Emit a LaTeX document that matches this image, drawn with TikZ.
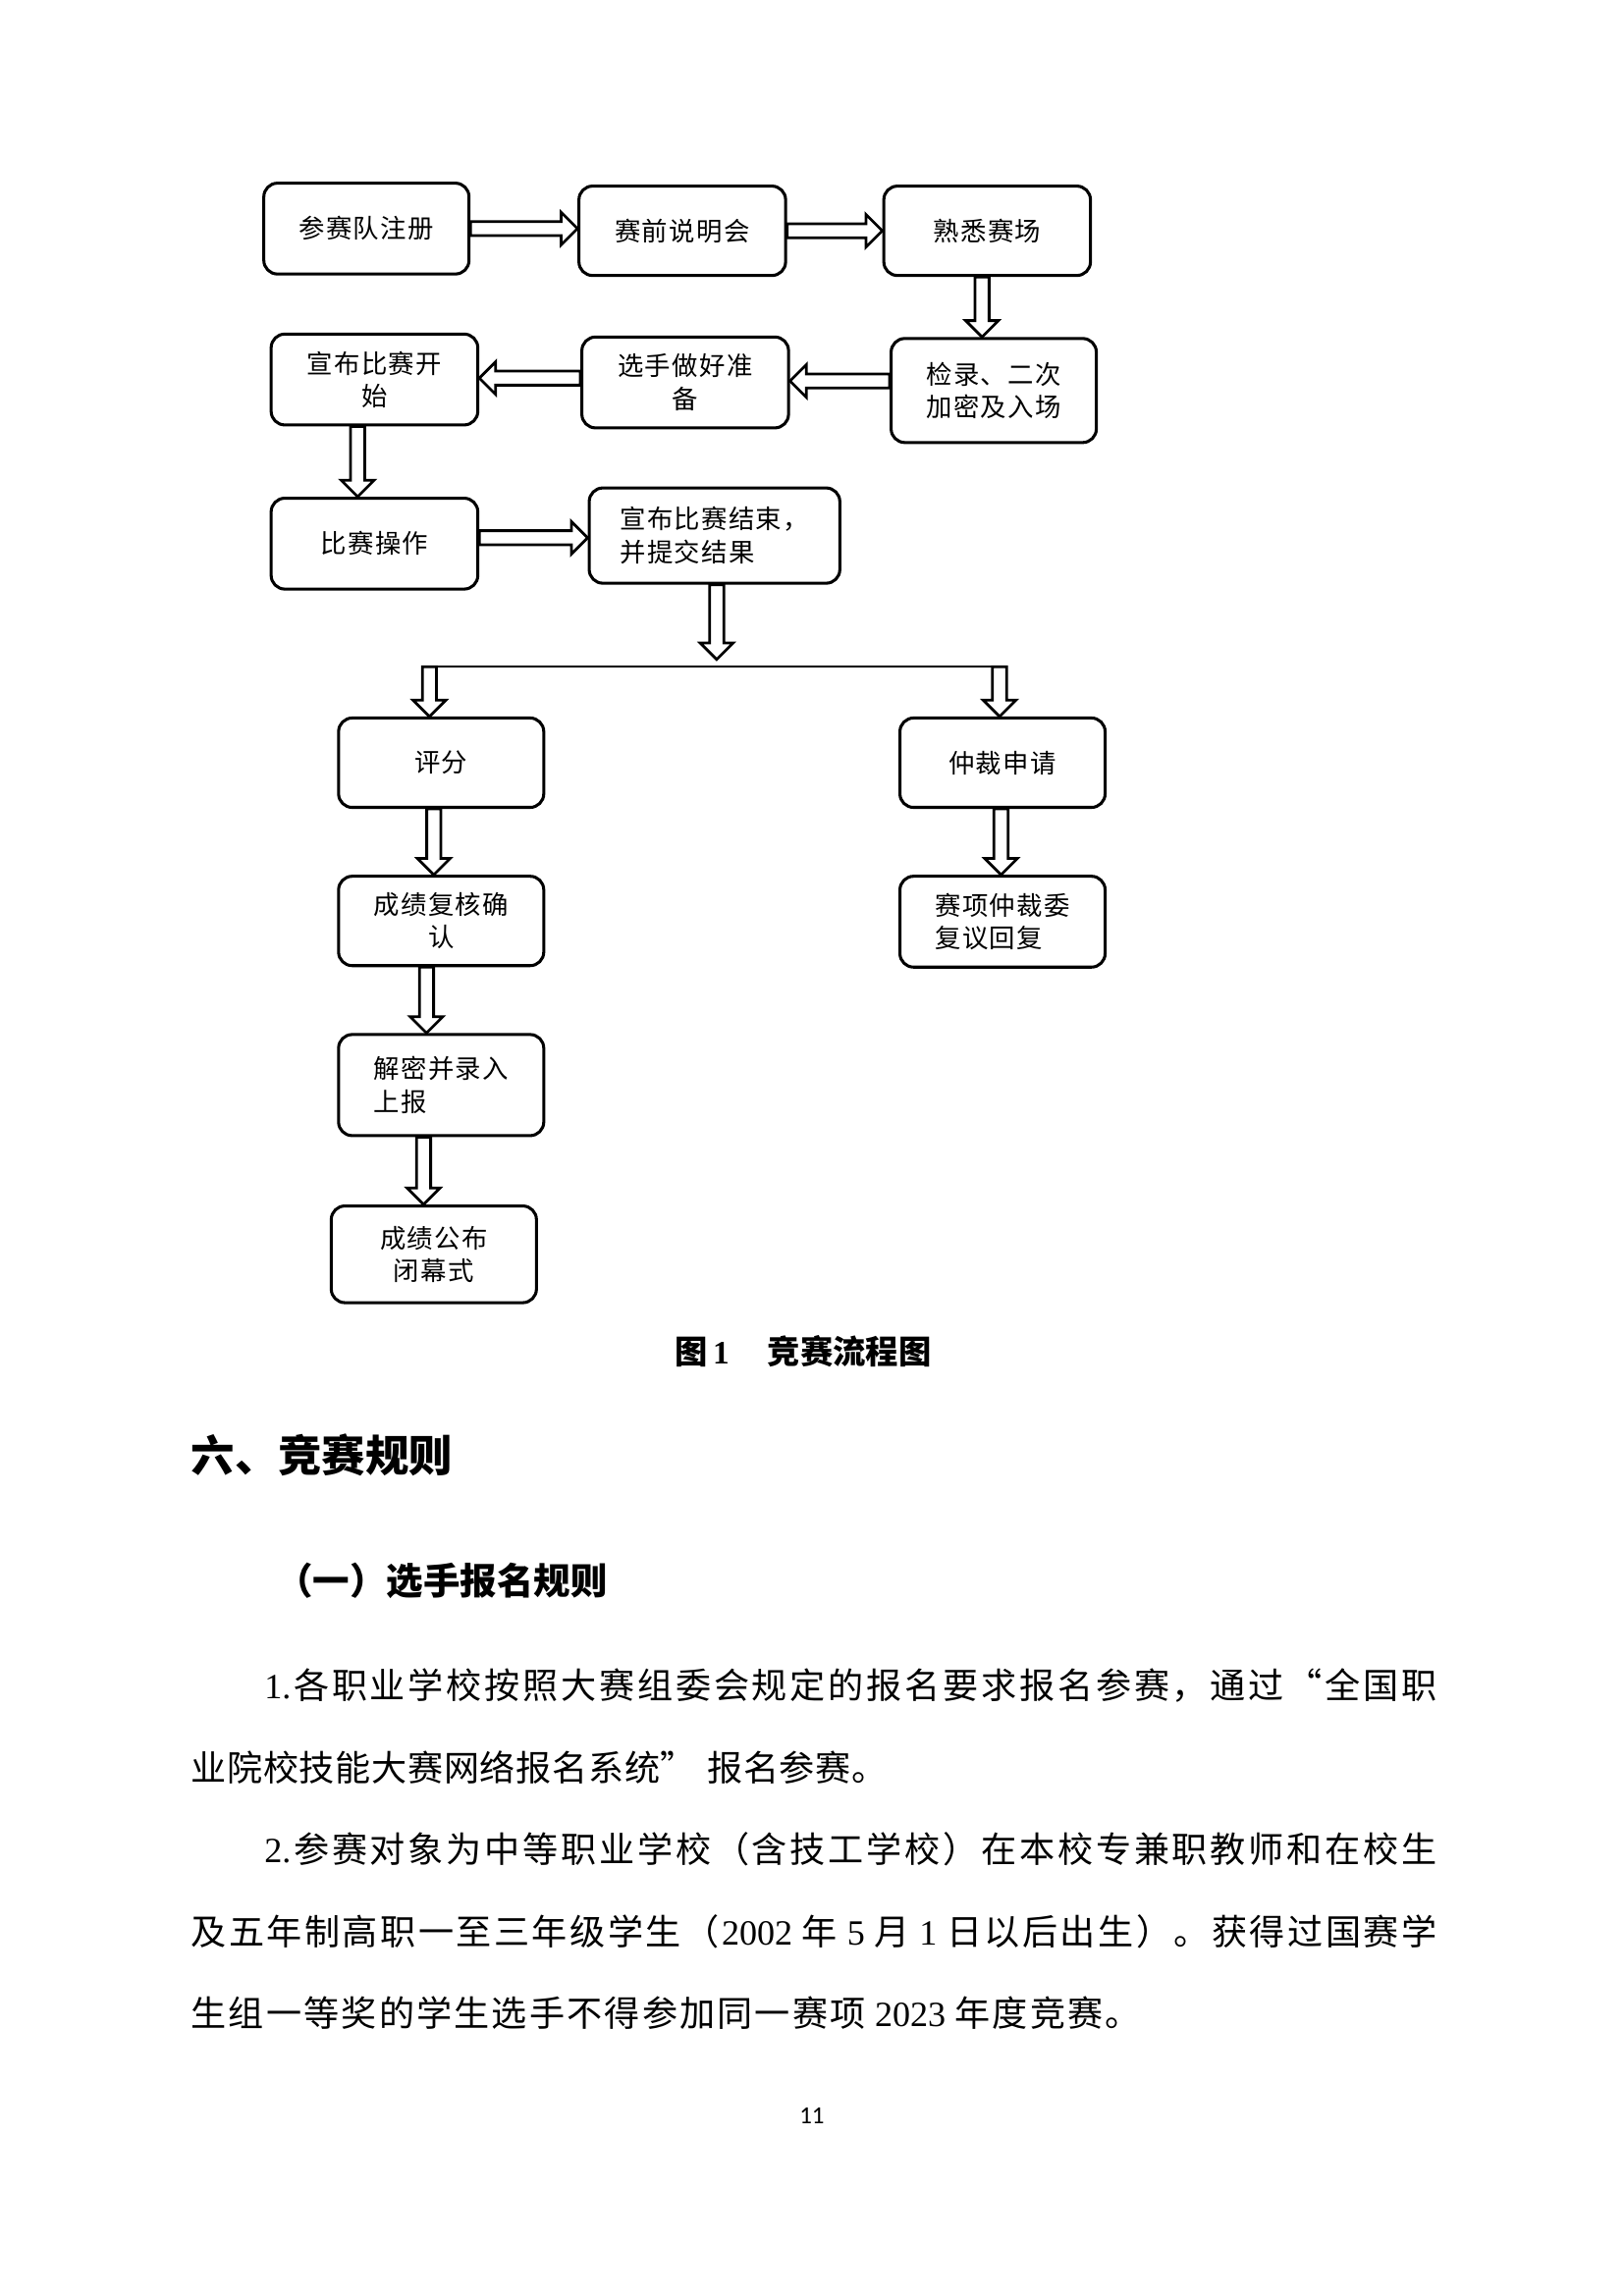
\documentclass[tikz,border=0pt]{standalone}
\usepackage{fontspec}
\setmainfont{Noto Sans CJK SC}
\newfontfamily\boxfont[LetterSpace=5]{Noto Sans CJK SC}
\newfontfamily\tnr{Liberation Serif}
\newfontfamily\pgfont{Carlito}
\usetikzlibrary{calc}
\newdimen\un \un=0.5373pt
\def\arSW{2.6pt}\def\arHW{6pt}\def\arHL{6pt}
\newcommand\T[1]{{\tnr #1}}
\makeatletter
\def\spr@end{\spr@end}
\def\spreadtext#1{\spr@#1\spr@end}
\def\spr@#1{\ifx\spr@end#1\unskip\else#1\hfil\expandafter\spr@\fi}
\makeatother
\newcommand\bx[7]{\node[box,align=#7,minimum width={#4*0.5373pt},minimum height={#5*0.5373pt}] (#1) at (#2,#3) {#6};}
\newcommand\harr[2]{\path[barrow] let \p1=(#1), \p2=(#2), \n1={\x2-sign(\x2-\x1)*\arHL} in
 (\x1,{\y1+\arSW}) -- ({\n1*1pt},{\y1+\arSW}) -- ({\n1*1pt},{\y1+\arHW}) -- (\x2,\y1) -- ({\n1*1pt},{\y1-\arHW}) -- ({\n1*1pt},{\y1-\arSW}) -- (\x1,{\y1-\arSW}) -- cycle;}
\newcommand\varr[2]{\path[barrow] let \p1=(#1), \p2=(#2), \n1={\y2-sign(\y2-\y1)*\arHL} in
 ({\x1+\arSW},\y1) -- ({\x1+\arSW},{\n1*1pt}) -- ({\x1+\arHW},{\n1*1pt}) -- (\x1,\y2) -- ({\x1-\arHW},{\n1*1pt}) -- ({\x1-\arSW},{\n1*1pt}) -- ({\x1-\arSW},\y1) -- cycle;}
\begin{document}
\begin{tikzpicture}[x=0.5373pt,y=-0.5373pt,
  box/.style={draw,line width=1.1pt,rounded corners=5pt,inner sep=0pt,font=\boxfont\fontsize{9.5}{12}\selectfont},
  barrow/.style={draw,fill=white,line width=1pt,line join=miter},
  link/.style={draw,line width=0.7pt},
  bodytext/.style={anchor=west,inner sep=0pt,font=\fontsize{13}{15}\selectfont}]
\useasboundingbox[fill=white] (0,0) rectangle (1108,1566.9);
% boxes
\bx{reg}{250}{156}{140}{62}{参赛队注册}{center}
\bx{brief}{465.5}{157.5}{141}{61}{赛前说明会}{center}
\bx{fam}{673.5}{157.5}{141}{61}{熟悉赛场}{center}
\bx{check}{678}{266.5}{140}{71}{检录、二次\\加密及入场}{center}
\bx{prep}{467.5}{261}{141}{62}{选手做好准\\备}{center}
\bx{start}{255.5}{259}{141}{62}{宣布比赛开\\始}{center}
\bx{op}{255.5}{371}{141}{62}{比赛操作}{center}
\bx{fin}{487.5}{365.5}{171}{65}{宣布比赛结束，\\并提交结果}{left}
\bx{score}{301}{520.5}{140}{61}{评分}{center}
\bx{arb}{684}{520.5}{140}{61}{仲裁申请}{center}
\bx{review}{301}{628.5}{140}{61}{成绩复核确\\认}{center}
\bx{reply}{684}{629}{140}{62}{赛项仲裁委\\复议回复}{left}
\bx{decrypt}{301}{740.5}{140}{69}{解密并录入\\上报}{left}
\bx{publish}{296}{856}{140}{66}{成绩公布\\闭幕式}{center}
% connectors
\harr{reg.east}{brief.west}
\harr{brief.east}{fam.west}
\varr{$(fam.south)+(-3.5,0)$}{check.north}
\harr{$(check.west)+(0,-6.5)$}{prep.east}
\harr{$(prep.west)+(0,-3)$}{start.east}
\varr{$(start.south)+(-11.5,0)$}{op.north}
\harr{$(op.east)+(0,-4)$}{fin.west}
\coordinate (fintip) at (489,450);
\coordinate (sl) at (293,455);
\coordinate (sr) at (682,455);
\varr{$(fin.south)+(1.5,0)$}{fintip}
\draw[link] (sl) -- (sr);
\varr{sl}{score.north}
\varr{sr}{arb.north}
\varr{$(score.south)+(-5,0)$}{review.north}
\varr{$(review.south)+(-10,0)$}{decrypt.north}
\varr{$(decrypt.south)+(-12,0)$}{publish.north}
\varr{$(arb.south)+(-1,0)$}{reply.north}
% caption and text
\node[anchor=west,inner sep=0pt,font=\bfseries\fontsize{12}{14}\selectfont] (cap) at (460,922) {图\,{\tnr 1}\hspace{14pt}竞赛流程图};
\node[anchor=west,inner sep=0pt,font=\bfseries\fontsize{16}{18}\selectfont] (h6) at (130,993) {六、竞赛规则};
\node[anchor=west,inner sep=0pt,font=\bfseries\fontsize{13.5}{15}\selectfont] (h61) at (188,1079) {（一）选手报名规则};
\node[bodytext] (l1) at (180,1150) {\hbox to 800\un{\spreadtext{{\T{1.}}各职业学校按照大赛组委会规定的报名要求报名参赛，通过“全国职}}};
\node[bodytext] (l2) at (130,1206) {\hbox to 475\un{\spreadtext{业院校技能大赛网络报名系统{”\hspace{0.3em}}报名参赛。}}};
\node[bodytext] (l3) at (180,1262) {\hbox to 800\un{\spreadtext{{\T{2.}}参赛对象为中等职业学校（含技工学校）在本校专兼职教师和在校生}}};
\node[bodytext] (l4) at (130,1318) {\hbox to 850\un{\spreadtext{及五年制高职一至三年级学生（{\T{2002}\hspace{0.2em}}年{\hspace{0.2em}\T{5}\hspace{0.2em}}月{\hspace{0.2em}\T{1}\hspace{0.2em}}日以后出生）。获得过国赛学}}};
\node[bodytext] (l5) at (130,1374) {\hbox to 648\un{\spreadtext{生组一等奖的学生选手不得参加同一赛项{\hspace{0.2em}\T{2023}\hspace{0.2em}}年度竞赛。}}};
\node[inner sep=0pt,font=\pgfont\fontsize{9}{10}\selectfont] (pg) at (554,1444) {11};
\end{tikzpicture}
\end{document}
